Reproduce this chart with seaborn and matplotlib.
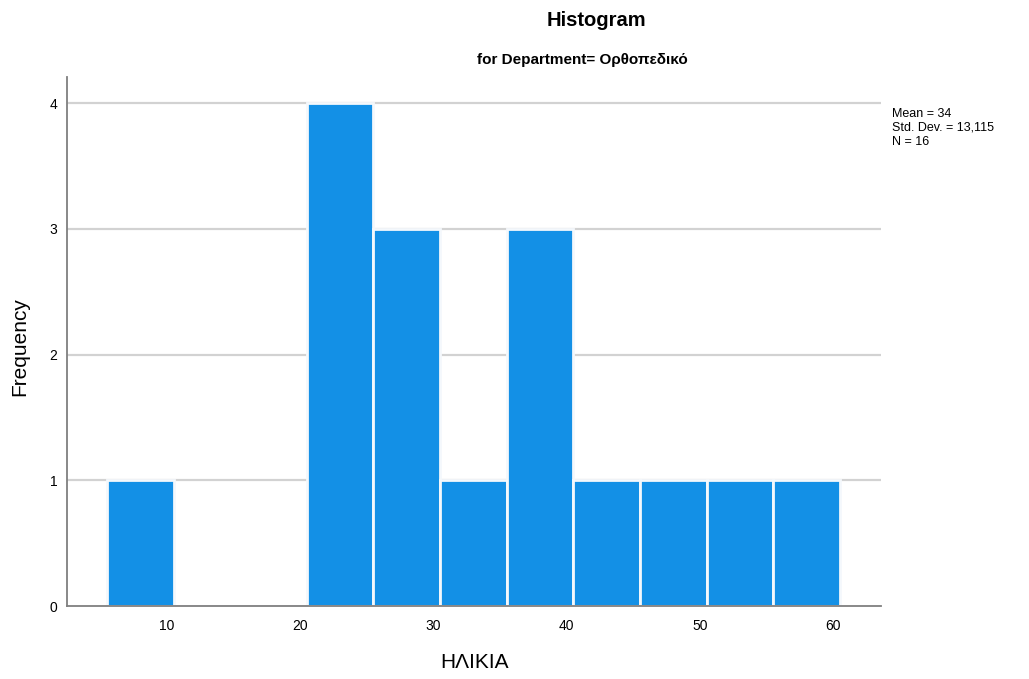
import matplotlib
matplotlib.use("Agg")
import matplotlib.pyplot as plt
import seaborn as sns
import numpy as np

# Age bins (width 5) and the number of patients in each
bin_edges = [5.5, 10.5, 15.5, 20.5, 25.5, 30.5, 35.5, 40.5, 45.5, 50.5, 55.5, 60.5]
bin_counts = [1, 0, 0, 4, 3, 1, 3, 1, 1, 1, 1]
x_ticks = [10, 20, 30, 40, 50, 60]
y_ticks = [0, 1, 2, 3, 4]
stats_lines = ["Mean = 34", "Std. Dev. = 13,115", "N = 16"]

bin_mids = [(a + b) / 2 for a, b in zip(bin_edges[:-1], bin_edges[1:])]

sns.set_style("white")
plt.rcParams["font.family"] = ["Liberation Sans", "DejaVu Sans"]
plt.rcParams["text.color"] = "black"

fig = plt.figure(figsize=(10.29, 6.79), dpi=100)
ax = fig.add_axes([67 / 1029, 1 - 606 / 679, (881 - 67) / 1029, (606 - 77) / 679])

ax.set_axisbelow(True)
for y in y_ticks[1:]:
    ax.axhline(y, color="#d2d2d2", linewidth=1.6, zorder=0)

sns.histplot(x=bin_mids, weights=bin_counts, bins=bin_edges, ax=ax,
             color="#1390e6", alpha=1.0, edgecolor="#f4f8fc", linewidth=2.0,
             zorder=2)

ax.set_xlim(2.49, 63.6)
ax.set_ylim(0, 4.207)
ax.set_xticks(x_ticks)
ax.set_yticks(y_ticks)
ax.tick_params(axis="both", length=0, labelsize=10, colors="black")
ax.tick_params(axis="x", pad=9)
ax.tick_params(axis="y", pad=7)

for side in ["top", "right"]:
    ax.spines[side].set_visible(False)
for side in ["left", "bottom"]:
    ax.spines[side].set_color("#7f7f7f")
    ax.spines[side].set_linewidth(1.3)

ax.set_xlabel("")
ax.set_ylabel("")
fig.text(474 / 1029, 1 - 663 / 679, "ΗΛΙΚΙΑ", ha="center", va="center",
         fontsize=15, color="black")
fig.text(20 / 1029, 1 - 347 / 679, "Frequency", ha="center", va="center",
         rotation=90, fontsize=15, color="black")

fig.text(596 / 1029, 1 - 20 / 679, "Histogram", ha="center", va="center",
         fontsize=14.5, fontweight="bold", color="black")
fig.text(582 / 1029, 1 - 60 / 679, "for Department= Ορθοπεδικό", ha="center",
         va="center", fontsize=11, fontweight="bold", color="black")

fig.text(892 / 1029, 1 - 108 / 679, "\n".join(stats_lines), ha="left", va="top",
         fontsize=9, linespacing=1.2, color="black")

fig.savefig("out.png", dpi=100)
